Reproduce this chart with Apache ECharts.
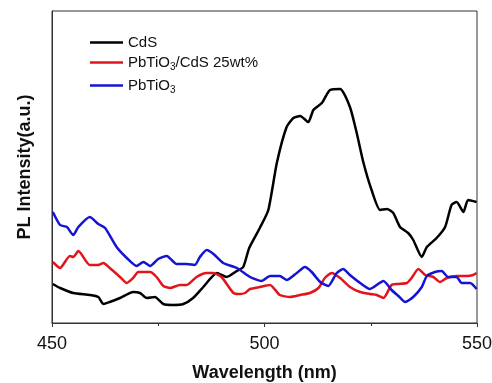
<!DOCTYPE html>
<html>
<head>
<meta charset="utf-8">
<script src="https://cdn.jsdelivr.net/npm/echarts@6/dist/echarts.min.js"></script>
<style>
  html, body { margin: 0; padding: 0; background: #fff; }
  #main { width: 492px; height: 383px; }
</style>
</head>
<body>
<div id="main"></div>
<script>
// values: [wavelength nm, intensity a.u.]
var cdsData = [
  [450.2, 39], [451.9, 35], [455, 30], [458.9, 28], [460.9, 26], [462.1, 19],
  [463.6, 21], [466, 25], [469.1, 31], [470.7, 30], [472.3, 25], [474.2, 26],
  [476.2, 19], [478.5, 18], [480.9, 19], [483.2, 25], [485.6, 36], [488.8, 50],
  [491.1, 46], [493.5, 52], [495, 56], [496.4, 75], [498.9, 95], [500.9, 113],
  [502.9, 160], [505.2, 196], [506.8, 205], [508.4, 207], [510.3, 201], [511.5, 213],
  [513.5, 220], [515.4, 233], [517.8, 234], [520.1, 216], [521.7, 190], [523.3, 160],
  [525.2, 133], [527.2, 113], [528.8, 114], [530.3, 110], [531.9, 96], [533.8, 90],
  [535, 83], [537, 66], [538.2, 76], [540.5, 85], [542.5, 96], [544, 118],
  [545.2, 121], [546.8, 111], [547.9, 123], [549.9, 121]
];
var compositeData = [
  [450.2, 61], [451.9, 55], [454.2, 67], [455, 66], [456.2, 72], [458.9, 58],
  [460.9, 58], [462.1, 60], [463.6, 55], [466, 46], [467.6, 40], [469.1, 45],
  [470.3, 51], [473.1, 51], [474.6, 46], [476.2, 37], [477.8, 35], [480.1, 38],
  [481.7, 38], [484, 46], [486.4, 50], [488, 50], [489.9, 46], [492.7, 30],
  [494.2, 29], [495.4, 30], [496.6, 34], [498.9, 36], [501.3, 38], [503.6, 28],
  [506, 26], [508.4, 28], [510.7, 30], [512.7, 35], [514.2, 45], [515.8, 50],
  [517.8, 45], [520.1, 36], [522.5, 31], [524.8, 29], [526.4, 28], [528, 25],
  [529.9, 38], [531.5, 39], [533.5, 40], [534.6, 45], [536.2, 54], [537.8, 48],
  [539.7, 46], [541.3, 41], [542.9, 45], [545.2, 47], [547.6, 47], [549.1, 48],
  [549.9, 50]
];
var pbtioData = [
  [450.2, 111], [451.9, 98], [453.5, 96], [455, 88], [456.2, 96], [458.9, 106],
  [460.9, 99], [462.5, 95], [465.2, 76], [467.6, 65], [469.9, 57], [471.5, 61],
  [473.1, 57], [475, 64], [477, 67], [479.3, 59], [481.7, 59], [483.6, 58],
  [484.8, 66], [486.4, 73], [488, 69], [490.3, 60], [493.5, 55], [496.6, 46],
  [499.3, 42], [501.3, 47], [503.6, 47], [505.2, 43], [507.6, 50], [509.5, 56],
  [511.1, 51], [513.1, 41], [515, 37], [517, 50], [518.5, 54], [520.1, 48],
  [522.5, 40], [524.8, 34], [528, 42], [529.9, 33], [531.5, 27], [533.1, 21],
  [535, 26], [537, 36], [538.2, 47], [540.1, 51], [541.7, 52], [543.2, 46],
  [545.2, 46], [546.4, 40], [548.4, 40], [549.9, 34]
];
var seriesNames = ['CdS', 'PbTiO3/CdS 25wt%', 'PbTiO3'];
var seriesColors = ['#000000', '#e0161c', '#1414d2'];
var xTicks = [450, 500, 550];

var chart = echarts.init(document.getElementById('main'));

var font = 'Liberation Sans, Arial, sans-serif';
function legendLabel(name) {
  return name.replace('O3', 'O{sub|3}');
}
var legendRich = {
  sub: { fontSize: 10, verticalAlign: 'bottom', padding: [9, 0, 0, 0], color: '#111', fontFamily: font }
};
function makeLegend(name, top) {
  return {
    data: [name],
    left: 90,
    top: top,
    padding: 0,
    icon: 'rect',
    itemWidth: 33,
    itemHeight: 2.5,
    selectedMode: false,
    formatter: legendLabel,
    textStyle: { fontSize: 15, color: '#111', fontFamily: font, rich: legendRich }
  };
}

var option = {
  animation: false,
  backgroundColor: '#fff',
  grid: {
    left: 52, right: 15, top: 11, bottom: 60,
    outerBoundsMode: 'none',
    containLabel: false,
    show: true, borderColor: '#333', borderWidth: 1
  },
  legend: [makeLegend(seriesNames[0], 35), makeLegend(seriesNames[1], 55), makeLegend(seriesNames[2], 78)],
  xAxis: {
    type: 'value',
    min: xTicks[0],
    max: xTicks[xTicks.length - 1],
    interval: 50,
    name: 'Wavelength (nm)',
    nameLocation: 'middle',
    nameGap: 41,
    nameTextStyle: { fontSize: 18, fontWeight: 'bold', color: '#111', fontFamily: font },
    axisLine: { lineStyle: { color: '#333', width: 1 } },
    axisTick: { inside: false, length: 4, lineStyle: { color: '#333' } },
    minorTick: { show: true, splitNumber: 2, length: 3, lineStyle: { color: '#333' } },
    axisLabel: { fontSize: 18, color: '#111', margin: 12, fontFamily: font },
    splitLine: { show: false }
  },
  yAxis: {
    type: 'value',
    min: 0,
    max: 312,
    name: 'PL Intensity(a.u.)',
    nameLocation: 'middle',
    nameGap: 18,
    nameTextStyle: { fontSize: 18, fontWeight: 'bold', color: '#111', fontFamily: font },
    axisLine: { show: true, lineStyle: { color: '#333', width: 1 } },
    axisTick: { show: false },
    axisLabel: { show: false },
    splitLine: { show: false }
  },
  series: [cdsData, compositeData, pbtioData].map(function (d, i) {
    return {
      name: seriesNames[i],
      type: 'line',
      data: d,
      symbol: 'none',
      smooth: 0.2,
      itemStyle: { color: seriesColors[i] },
      lineStyle: { color: seriesColors[i], width: 2.5 }
    };
  })
};
chart.setOption(option);
</script>
</body>
</html>
